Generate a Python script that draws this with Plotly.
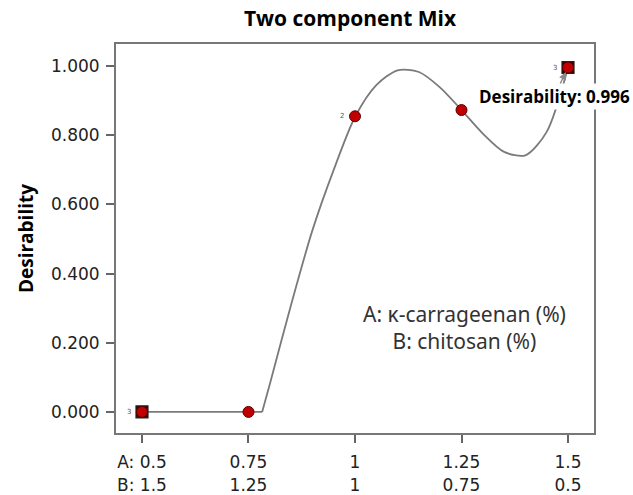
import plotly.graph_objects as go

# Data
tick_vals = [0.5, 0.75, 1.0, 1.25, 1.5]
tick_a = ["A: 0.5", "0.75", "1", "1.25", "1.5"]
tick_b = ["B: 1.5", "1.25", "1", "0.75", "0.5"]

y_ticks = [0.0, 0.2, 0.4, 0.6, 0.8, 1.0]

flat_x = [0.5, 0.782]
flat_y = [0.0, 0.0]

curve_x = [0.782, 0.80, 0.85, 0.90, 0.95, 1.00, 1.05, 1.10, 1.15, 1.20, 1.25, 1.30, 1.35, 1.40, 1.45, 1.50]
curve_y = [0.0, 0.08, 0.31, 0.525, 0.70, 0.853, 0.945, 0.988, 0.983, 0.938, 0.873, 0.805, 0.752, 0.742, 0.81, 0.996]

pts_x = [0.5, 0.75, 1.0, 1.25, 1.5]
pts_y = [0.0, 0.0, 0.855, 0.873, 0.996]
pts_rep = ["3", "", "2", "", "3"]

sq_x = [0.5, 1.5]
sq_y = [0.0, 0.996]

opt_x = 1.5
opt_y = 0.996

fig = go.Figure()

fig.add_trace(go.Scatter(x=flat_x, y=flat_y, mode="lines",
                         line=dict(color="#7a7a7a", width=1.8), hoverinfo="skip"))
fig.add_trace(go.Scatter(x=curve_x, y=curve_y, mode="lines",
                         line=dict(color="#7a7a7a", width=1.8, shape="spline", smoothing=0.8),
                         hoverinfo="skip"))
fig.add_trace(go.Scatter(x=sq_x, y=sq_y, mode="markers",
                         marker=dict(symbol="square", size=12, color="#3a0000",
                                     line=dict(color="#222222", width=1.2))))
fig.add_trace(go.Scatter(x=pts_x, y=pts_y, mode="markers",
                         marker=dict(symbol="circle", size=11, color="#c00000",
                                     line=dict(color="#5a0000", width=1))))

for x, y, r in zip(pts_x, pts_y, pts_rep):
    if r:
        fig.add_annotation(x=x, y=y, text=r, showarrow=False, xshift=-13,
                           font=dict(family="DejaVu Sans", size=7, color="#555555"))

fig.add_annotation(x=opt_x, y=opt_y, text="<b>Desirability: " + f"{opt_y:.3f}" + "</b>",
                   showarrow=True, arrowhead=2, arrowsize=1, arrowwidth=1.5,
                   arrowcolor="#8a8a8a", ax=-14, ay=29, standoff=5,
                   xanchor="center", yanchor="middle",
                   bgcolor="white", borderpad=1,
                   font=dict(family="Open Sans", size=17, color="black"))

fig.add_annotation(xref="paper", yref="paper", x=0.73, y=0.27,
                   xanchor="center", yanchor="middle",
                   text="A: κ-carrageenan (%)<br>B: chitosan (%)", showarrow=False,
                   align="center", font=dict(family="Noto Sans", size=21, color="#333333"))

fig.update_layout(
    width=633, height=495,
    margin=dict(l=116, r=39, t=44, b=62),
    paper_bgcolor="white", plot_bgcolor="white",
    showlegend=False,
    title=dict(text="<b>Two component Mix</b>", x=0.553, xanchor="center", y=0.963, yanchor="middle",
               font=dict(family="Open Sans", size=21, color="black")),
)

fig.update_xaxes(range=[0.439, 1.561], tickvals=tick_vals,
                 ticktext=[a + "<br>" + b for a, b in zip(tick_a, tick_b)],
                 ticks="outside", ticklen=8, tickwidth=2, tickcolor="#666666",
                 ticklabelstandoff=5, automargin=False,
                 showline=True, linecolor="#777777", linewidth=2, mirror=True,
                 showgrid=False, zeroline=False,
                 tickfont=dict(family="DejaVu Sans", size=17, color="#222222"))
fig.update_yaxes(range=[-0.061, 1.064], tickvals=y_ticks,
                 ticktext=[f"{v:.3f}" for v in y_ticks],
                 ticks="outside", ticklen=8, tickwidth=2, tickcolor="#666666",
                 ticklabelstandoff=3, automargin=False,
                 showline=True, linecolor="#777777", linewidth=2, mirror=True,
                 showgrid=False, zeroline=False,
                 tickfont=dict(family="DejaVu Sans", size=17, color="#222222"),
                 title=dict(text="<b>Desirability</b>", standoff=12,
                            font=dict(family="Open Sans", size=19, color="black")))

fig.write_html("out.html")
